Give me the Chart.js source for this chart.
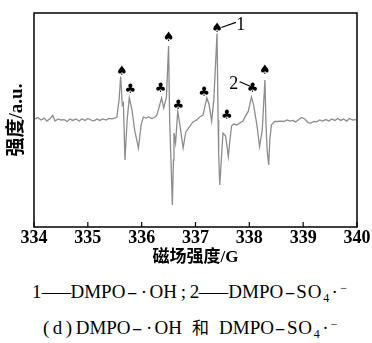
<!DOCTYPE html>
<html>
<head>
<meta charset="utf-8">
<script src="https://cdn.jsdelivr.net/npm/chart.js@4.4.0/dist/chart.umd.min.js"></script>
<style>
    body { margin: 0; background: #fff; }
    #wrap { width: 372px; height: 343px; position: relative; overflow: hidden; }
    #box { position: absolute; left: 0; top: 0; width: 372px; height: 272px; }
    .cap { position: absolute; font-family: "Liberation Serif", serif; font-size: 19px; line-height: 20px; color: #000; white-space: nowrap; }
    .cap .ib { display: inline-block; text-align: center; }
    .cap .em { width: 29px; }
    .cap .em span { display: inline-block; transform: scaleX(1.55); }
    .cap .hy { width: 13px; }
    .cap .hy span { display: inline-block; transform: scaleX(1.7); }
    .cap .dot { width: 11px; }
    .cap .sc { width: 13px; }
    .cap .he { width: 37px; font-family: "Noto Sans CJK SC", sans-serif; font-size: 17px; }
    .cap .so { letter-spacing: 0.8px; }
    .cap sub { font-size: 12px; vertical-align: -4px; line-height: 0; margin-left: 1px; }
    .cap sup { font-size: 12px; vertical-align: 6px; line-height: 0; }
</style>
</head>
<body>
<div id="wrap">
    <div id="box"><canvas id="epr"></canvas></div>
    <div class="cap" style="top:282px; left:32px">1<span class="ib em"><span>—</span></span>DMPO<span class="ib hy"><span>-</span></span><span class="ib dot">·</span>OH<span class="ib sc">;</span>2<span class="ib em"><span>—</span></span>DMPO<span class="ib hy"><span>-</span></span><span class="so">SO</span><sub>4</sub><span class="ib dot">·</span><sup>−</sup></div>
    <div class="cap" style="top:317px; left:43px"><span style="letter-spacing:3.5px">(d)</span>DMPO<span class="ib hy"><span>-</span></span><span class="ib dot">·</span>OH<span class="ib he">和</span>DMPO<span class="ib hy"><span>-</span></span><span class="so">SO</span><sub>4</sub><span class="ib dot">·</span><sup>−</sup></div>
</div>
<script>
// magnetic field (G) and EPR intensity (a.u.)
var fieldG = [
    334.02, 334.07, 334.13, 334.19, 334.24, 334.30, 334.35, 334.39, 334.45, 334.50,
    334.56, 334.61, 334.67, 334.72, 334.78, 334.84, 334.89, 334.95, 335.00, 335.06,
    335.11, 335.17, 335.22, 335.28, 335.34, 335.39, 335.45, 335.50, 335.54,
    335.58, 335.61, 335.64, 335.66, 335.69, 335.73, 335.77, 335.82, 335.87, 335.94,
    335.99, 336.03, 336.08, 336.13, 336.19, 336.25, 336.28,
    336.32, 336.37, 336.41, 336.46, 336.50, 336.52, 336.54, 336.57, 336.59, 336.60,
    336.63, 336.67, 336.71, 336.77, 336.82, 336.90, 336.95, 337.02, 337.08, 337.14,
    337.21, 337.25, 337.30, 337.34, 337.40, 337.42, 337.43, 337.45, 337.48, 337.51,
    337.56, 337.61, 337.64, 337.67, 337.71, 337.77, 337.82, 337.88, 337.93, 337.98,
    338.04, 338.08, 338.14, 338.19, 338.24, 338.26, 338.29, 338.31, 338.33, 338.36,
    338.38, 338.41, 338.47,
    338.53, 338.58, 338.64, 338.70, 338.75, 338.81, 338.86, 338.92, 338.97, 339.03,
    339.09, 339.14, 339.20, 339.25, 339.31, 339.36, 339.42, 339.48, 339.53, 339.59,
    339.64, 339.70, 339.75, 339.81, 339.86, 339.92, 339.98
];
var intensity = [
    50.5, 51.2, 50.0, 50.9, 49.5, 50.7, 52.1, 49.5, 50.5, 50.0,
    50.2, 49.3, 50.5, 49.8, 50.5, 49.5, 50.5, 49.8, 50.7, 50.0,
    49.5, 50.5, 49.8, 50.5, 50.0, 50.7, 50.5, 50.9, 51.4,
    59.4, 70.3, 57.0, 57.9, 31.3, 50.0, 60.3, 54.7, 45.3, 36.9,
    47.7, 51.4, 50.9, 51.4, 50.7, 51.4, 52.3,
    55.6, 60.3, 55.6, 60.8, 84.6, 50.0, 34.6, 10.3, 31.3, 43.9,
    39.3, 54.0, 47.7, 36.9, 44.4, 47.2, 49.1, 50.0, 51.4, 52.3,
    60.3, 57.5, 49.5, 59.4, 90.4, 50.0, 34.6, 19.6, 31.3, 43.9,
    42.5, 32.9, 40.7, 47.2, 48.1, 47.7, 48.6, 49.5, 51.9, 54.0,
    60.8, 57.0, 47.7, 37.6, 45.3, 54.7, 68.7, 47.7, 36.0, 29.0,
    40.7, 47.7, 49.3,
    49.3, 49.5, 49.3, 50.0, 49.5, 49.8, 49.1, 50.2, 51.2, 50.5,
    48.8, 48.6, 49.3, 49.1, 50.0, 49.5, 50.2, 49.5, 50.5, 49.8,
    50.7, 49.8, 50.5, 49.5, 50.7, 50.0, 50.2
];
var tickValues = [334, 335, 336, 337, 338, 339, 340];

// peak markers: ♠ = DMPO-·OH, ♣ = DMPO-SO4·-
var spadeX = [335.63, 336.50, 337.40, 338.29];
var spadeY = [72.6, 88.3, 92.5, 72.9];
var clubX = [335.79, 336.35, 336.68, 337.16, 337.58, 338.06];
var clubY = [64.0, 64.5, 56.5, 62.6, 51.9, 64.5];

// numbered callouts: label position, leader line start and end
var calloutText = ['1', '2'];
var calloutX = [337.84, 337.71];
var calloutY = [94.4, 66.8];
var leaderFromX = [337.75, 337.82];
var leaderFromY = [95.6, 67.9];
var leaderToX = [337.48, 338.06];
var leaderToY = [93.2, 65.3];

const serifBold = { family: '"Liberation Serif", "Noto Sans CJK SC", serif', weight: 'bold' };

const decorations = {
    id: 'decorations',
    afterDatasetsDraw(chart) {
        const { ctx, chartArea: a, scales: { x, y } } = chart;
        ctx.save();
        ctx.strokeStyle = '#000';
        ctx.lineWidth = 1.5;
        ctx.strokeRect(a.left, a.top, a.width, a.height);
        // inward ticks on the field axis
        ctx.lineWidth = 1.2;
        tickValues.forEach(v => {
            const px = x.getPixelForValue(v);
            ctx.beginPath();
            ctx.moveTo(px, a.bottom);
            ctx.lineTo(px, a.bottom - 5);
            ctx.stroke();
        });
        ctx.fillStyle = '#000';
        ctx.textAlign = 'center';
        ctx.textBaseline = 'middle';
        ctx.font = '13px "DejaVu Sans"';
        spadeX.forEach((v, i) => ctx.fillText('♠', x.getPixelForValue(v), y.getPixelForValue(spadeY[i])));
        clubX.forEach((v, i) => ctx.fillText('♣', x.getPixelForValue(v), y.getPixelForValue(clubY[i])));
        ctx.font = '18px "Liberation Serif"';
        ctx.lineWidth = 1.2;
        calloutText.forEach((t, i) => {
            ctx.fillText(t, x.getPixelForValue(calloutX[i]), y.getPixelForValue(calloutY[i]));
            ctx.beginPath();
            ctx.moveTo(x.getPixelForValue(leaderFromX[i]), y.getPixelForValue(leaderFromY[i]));
            ctx.lineTo(x.getPixelForValue(leaderToX[i]), y.getPixelForValue(leaderToY[i]));
            ctx.stroke();
        });
        ctx.restore();
    }
};

new Chart(document.getElementById('epr'), {
    type: 'line',
    data: {
        datasets: [{
            data: fieldG.map((g, i) => ({ x: g, y: intensity[i] })),
            borderColor: '#8c8c8c',
            borderWidth: 1.3,
            pointRadius: 0,
            tension: 0,
            fill: false
        }]
    },
    options: {
        animation: false,
        responsive: true,
        maintainAspectRatio: false,
        layout: { padding: { top: 13, right: 15, left: 0, bottom: 0 } },
        plugins: { legend: { display: false }, tooltip: { enabled: false } },
        scales: {
            x: {
                type: 'linear',
                min: 334,
                max: 340,
                afterBuildTicks: (s) => { s.ticks = tickValues.map(v => ({ value: v })); },
                grid: { display: false, drawTicks: false },
                border: { display: false },
                ticks: { color: '#000', padding: 1, font: { ...serifBold, size: 18 } },
                title: { display: true, text: '磁场强度/G', color: '#000', padding: { top: 0, bottom: 4 }, font: { ...serifBold, size: 17 } },
                afterFit: (s) => { s.height = 45; }
            },
            y: {
                min: 0,
                max: 100,
                grid: { display: false, drawTicks: false },
                border: { display: false },
                ticks: { display: false },
                title: { display: true, text: '强度/a.u.', color: '#000', padding: { top: 6, bottom: 0 }, font: { ...serifBold, size: 19 } },
                afterFit: (s) => { s.width = 34; }
            }
        }
    },
    plugins: [decorations]
});
</script>
</body>
</html>
